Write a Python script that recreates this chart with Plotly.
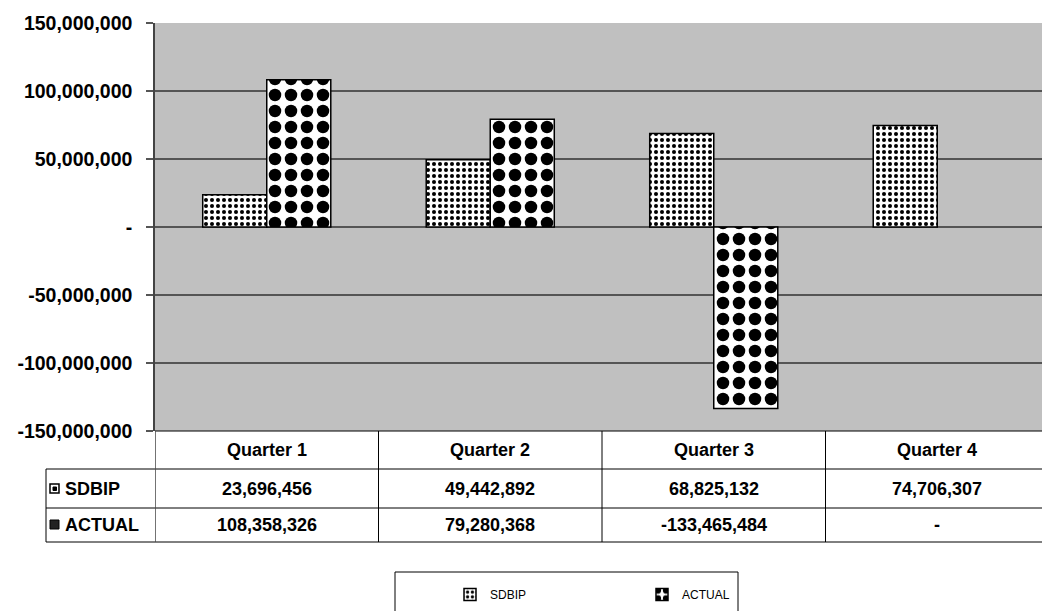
import plotly.graph_objects as go

categories = ["Quarter 1", "Quarter 2", "Quarter 3", "Quarter 4"]
sdbip = [23696456, 49442892, 68825132, 74706307]
actual = [108358326, 79280368, -133465484, 0]
series_names = ["SDBIP", "ACTUAL"]
tick_vals = [150e6, 100e6, 50e6, 0, -50e6, -100e6, -150e6]
tick_text = ["150,000,000", "100,000,000", "50,000,000", "-", "-50,000,000", "-100,000,000", "-150,000,000"]

FONT = "Liberation Sans, Arial, sans-serif"
W, H = 1042, 611
L, R, T, B = 155, 0, 23, 180
PH = H - T - B
PW = W - L - R
UNIT = 223.5  # pixels per category

def py(p):  # pixel y -> paper y
    return (H - B - p) / PH

def px(p):  # pixel x -> paper x
    return (p - L) / PW

fig = go.Figure()
fig.add_trace(go.Bar(
    x=categories, y=sdbip, name=series_names[0],
    marker=dict(color="white",
                line=dict(color="black", width=[0 if v == 0 else 1.5 for v in sdbip]),
                pattern=dict(shape=".", size=6, solidity=0.36, fgcolor="black", bgcolor="white", fgopacity=1)),
))
fig.add_trace(go.Bar(
    x=categories, y=actual, name=series_names[1],
    marker=dict(color="white",
                line=dict(color="black", width=[0 if v == 0 else 1.5 for v in actual]),
                pattern=dict(shape=".", size=16, solidity=0.48, fgcolor="black", bgcolor="white", fgopacity=1)),
))

shapes = []
line = dict(color="black", width=1)
# table horizontal lines
shapes.append(dict(type="line", xref="paper", yref="paper", x0=0, x1=1, y0=py(431), y1=py(431), line=line))
for yy in [469, 508, 542]:
    shapes.append(dict(type="line", xref="paper", yref="paper", x0=px(46), x1=1, y0=py(yy), y1=py(yy), line=line))
# vertical lines
shapes.append(dict(type="line", xref="paper", yref="paper", x0=px(46), x1=px(46), y0=py(469), y1=py(542), line=line))
for i in range(len(categories)):
    shapes.append(dict(type="line", xref="x", yref="paper", x0=i - 0.5, x1=i - 0.5, y0=py(431), y1=py(542),
                       line=dict(color="#444", width=1.5) if i == 0 else line))
# small icons in table
shapes.append(dict(type="rect", xref="paper", yref="paper", x0=px(50), x1=px(59), y0=py(484), y1=py(493),
                   line=dict(color="black", width=1.5), fillcolor="white"))
shapes.append(dict(type="rect", xref="paper", yref="paper", x0=px(53), x1=px(56.5), y0=py(487), y1=py(490.5),
                   line=dict(color="black", width=1), fillcolor="black"))
shapes.append(dict(type="rect", xref="paper", yref="paper", x0=px(50), x1=px(59), y0=py(520), y1=py(529),
                   line=dict(color="black", width=1), fillcolor="#222"))
# legend box
shapes.append(dict(type="rect", xref="paper", yref="paper", x0=px(395), x1=px(738), y0=py(572), y1=py(630),
                   line=dict(color="black", width=1), fillcolor="rgba(0,0,0,0)"))

annotations = []
tf = dict(family=FONT, size=18, color="black", weight="bold")
for i, c in enumerate(categories):
    annotations.append(dict(x=i, y=py(450), xref="x", yref="paper", text=c, showarrow=False, font=tf,
                            yanchor="middle"))
    annotations.append(dict(x=i, y=py(488.5), xref="x", yref="paper", text=f"{sdbip[i]:,}" if sdbip[i] else "-",
                            showarrow=False, font=tf, yanchor="middle"))
    annotations.append(dict(x=i, y=py(525), xref="x", yref="paper", text=f"{actual[i]:,}" if actual[i] else "-",
                            showarrow=False, font=tf, yanchor="middle"))
annotations.append(dict(x=px(63), y=py(488.5), xref="paper", yref="paper", text=series_names[0], showarrow=False,
                        xanchor="left", yanchor="middle", font=tf))
annotations.append(dict(x=px(63), y=py(525), xref="paper", yref="paper", text=series_names[1], showarrow=False,
                        xanchor="left", yanchor="middle", font=tf))

fig.update_layout(
    width=W, height=H,
    margin=dict(l=L, r=R, t=T, b=B, pad=0),
    paper_bgcolor="white", plot_bgcolor="#C0C0C0",
    barmode="group", bargap=0.427, bargroupgap=0,
    font=dict(family=FONT, color="black"),
    showlegend=True,
    legend=dict(orientation="h", x=px(450), xanchor="left", y=py(580), yanchor="top",
                font=dict(family=FONT, size=12, color="black"),
                entrywidth=147, entrywidthmode="pixels", bgcolor="rgba(0,0,0,0)", borderwidth=0),
    xaxis=dict(showticklabels=False, showgrid=False, zeroline=False, ticks="",
               range=[-0.5, -0.5 + PW / UNIT], showline=False, fixedrange=True),
    yaxis=dict(range=[-150e6, 150e6], tickvals=tick_vals, ticktext=tick_text,
               tickfont=dict(family=FONT, size=19.5, color="black", weight="bold"),
               showgrid=True, gridcolor="#555", gridwidth=1.5,
               zeroline=True, zerolinecolor="#555", zerolinewidth=1.5,
               showline=True, linecolor="#444", linewidth=1.5,
               ticks="outside", ticklen=7, tickcolor="#555", tickwidth=1.5,
               ticklabelstandoff=10, fixedrange=True),
    shapes=shapes, annotations=annotations,
)

fig.write_html("out.html")
